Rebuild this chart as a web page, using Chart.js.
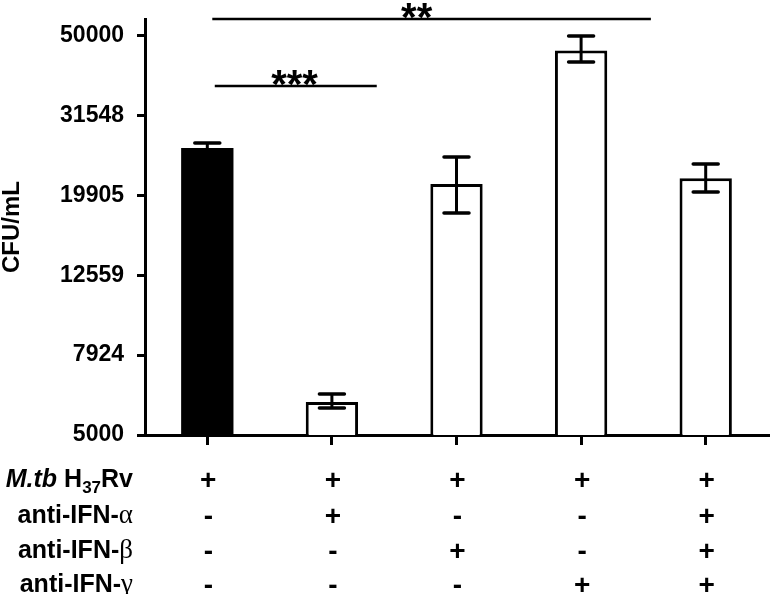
<!DOCTYPE html>
<html>
<head>
<meta charset="utf-8">
<script src="https://cdn.jsdelivr.net/npm/chart.js@4.4.1/dist/chart.umd.min.js"></script>
<style>
body{margin:0;background:#fff;}
#wrap{width:770px;height:594px;}
</style>
</head>
<body>
<div id="wrap"><canvas id="chart" width="770" height="594"></canvas></div>
<script>
const groups = ['g1','g2','g3','g4','g5'];
const cfu = [26150, 6050, 21250, 45850, 21950];
const errLow = [25400, 5840, 17980, 42930, 20290];
const errHigh = [26900, 6330, 24820, 49850, 23840];
const yTicks = [5000, 7924, 12559, 19905, 31548, 50000];
const barFill = ['#000000','#ffffff','#ffffff','#ffffff','#ffffff'];
const barEdge = [0, 3, 3, 3, 3];

// treatment table under the x axis
const rowNames = ['M.tb H37Rv','anti-IFN-α','anti-IFN-β','anti-IFN-γ'];
const mtb   = ['+','+','+','+','+'];
const antiA = ['-','+','-','-','+'];
const antiB = ['-','-','+','-','+'];
const antiG = ['-','-','-','+','+'];
const rows = [mtb, antiA, antiB, antiG];

// significance lines (x in category units, y in CFU/mL)
const sigFrom = [0.04, 0.06];
const sigTo = [3.56, 1.36];
const sigY = [55000, 37400];
const sigText = ['**', '***'];
const sigTextX = [1.68, 0.70];

const fam = '"Liberation Sans", Arial, sans-serif';

function labelParts(name){
    const b = 'bold 25px ' + fam;
    if(name.indexOf('M.tb')==0){
        return [
            {t:'M.tb', font:'italic bold 25px ' + fam},
            {t:' H', font:b},
            {t:'37', font:'bold 17px ' + fam, dy:6},
            {t:'Rv', font:b}
        ];
    }
    let last = name.slice(-1);
    return [
        {t:name.slice(0,-1), font:b},
        {t:last, font:'27px "Liberation Serif", "DejaVu Serif", serif'}
    ];
}

function drawRich(ctx, parts, xRight, y){
    let w = 0;
    parts.forEach(p => { ctx.font = p.font; w += ctx.measureText(p.t).width; });
    let x = xRight - w;
    parts.forEach(p => {
        ctx.font = p.font;
        ctx.fillText(p.t, x, y + (p.dy||0));
        x += ctx.measureText(p.t).width;
    });
}

const extras = {
    id:'extras',
    afterDatasetsDraw(chart){
        const ctx = chart.ctx;
        const xs = chart.scales.x, ys = chart.scales.y;
        ctx.save();
        ctx.strokeStyle = '#000';
        ctx.fillStyle = '#000';

        // error bars
        for(let i=0;i<cfu.length;i++){
            let cx = xs.getPixelForValue(i);
            let yl = ys.getPixelForValue(errLow[i]);
            let yh = ys.getPixelForValue(errHigh[i]);
            ctx.lineWidth = 3;
            ctx.lineCap = 'butt';
            ctx.beginPath();
            ctx.moveTo(cx, yl); ctx.lineTo(cx, yh);
            ctx.stroke();
            ctx.lineWidth = 3.5;
            ctx.lineCap = 'round';
            ctx.beginPath();
            ctx.moveTo(cx-12.5, yh); ctx.lineTo(cx+12.5, yh);
            ctx.moveTo(cx-12.5, yl); ctx.lineTo(cx+12.5, yl);
            ctx.stroke();
        }

        // significance
        ctx.lineCap = 'butt';
        ctx.lineWidth = 2.5;
        ctx.textAlign = 'center';
        ctx.textBaseline = 'alphabetic';
        for(let i=0;i<sigText.length;i++){
            let y = ys.getPixelForValue(sigY[i]);
            ctx.beginPath();
            ctx.moveTo(xs.getPixelForValue(sigFrom[i]), y);
            ctx.lineTo(xs.getPixelForValue(sigTo[i]), y);
            ctx.stroke();
            ctx.font = 'bold 40px ' + fam;
            ctx.fillText(sigText[i], xs.getPixelForValue(sigTextX[i]), y + 12);
        }

        // table
        const base = [487, 523, 558, 592];
        ctx.textAlign = 'left';
        for(let r=0;r<rowNames.length;r++){
            drawRich(ctx, labelParts(rowNames[r]), 133, base[r]);
        }
        ctx.textAlign = 'center';
        ctx.font = 'bold 28px ' + fam;
        for(let r=0;r<rows.length;r++){
            for(let i=0;i<rows[r].length;i++){
                ctx.fillText(rows[r][i], xs.getPixelForValue(i) + 1, base[r] + 2);
            }
        }
        ctx.restore();
    }
};

new Chart(document.getElementById('chart'), {
    type:'bar',
    data:{
        labels:groups,
        datasets:[{
            data:cfu,
            backgroundColor:barFill,
            borderColor:'#000',
            borderWidth:barEdge,
            barPercentage:0.42,
            categoryPercentage:1
        }]
    },
    options:{
        responsive:false,
        animation:false,
        layout:{padding:{top:19, right:2, left:0, bottom:0}},
        plugins:{legend:{display:false}, tooltip:{enabled:false}},
        scales:{
            x:{
                grid:{offset:false, drawOnChartArea:false, color:'#000', lineWidth:3, tickLength:10},
                border:{color:'#000', width:3},
                ticks:{display:false},
                afterFit:s => { s.height = 159; s.paddingLeft = 0; s.paddingRight = 0; }
            },
            y:{
                type:'logarithmic',
                min:5000,
                max:55000,
                afterBuildTicks:s => { s.ticks = yTicks.map(v => ({value:v})); },
                ticks:{
                    color:'#000',
                    font:{family:fam, size:23, weight:'bold'},
                    padding:13,
                    autoSkip:false,
                    callback:v => String(v)
                },
                grid:{drawOnChartArea:false, color:'#000', lineWidth:3, tickLength:8},
                border:{color:'#000', width:3},
                title:{
                    display:true,
                    text:'CFU/mL',
                    color:'#000',
                    font:{family:fam, size:24, weight:'bold', lineHeight:1},
                    padding:0
                },
                afterFit:s => { s.width = 145; s.paddingTop = 0; s.paddingBottom = 0; }
            }
        }
    },
    plugins:[extras]
});
</script>
</body>
</html>
